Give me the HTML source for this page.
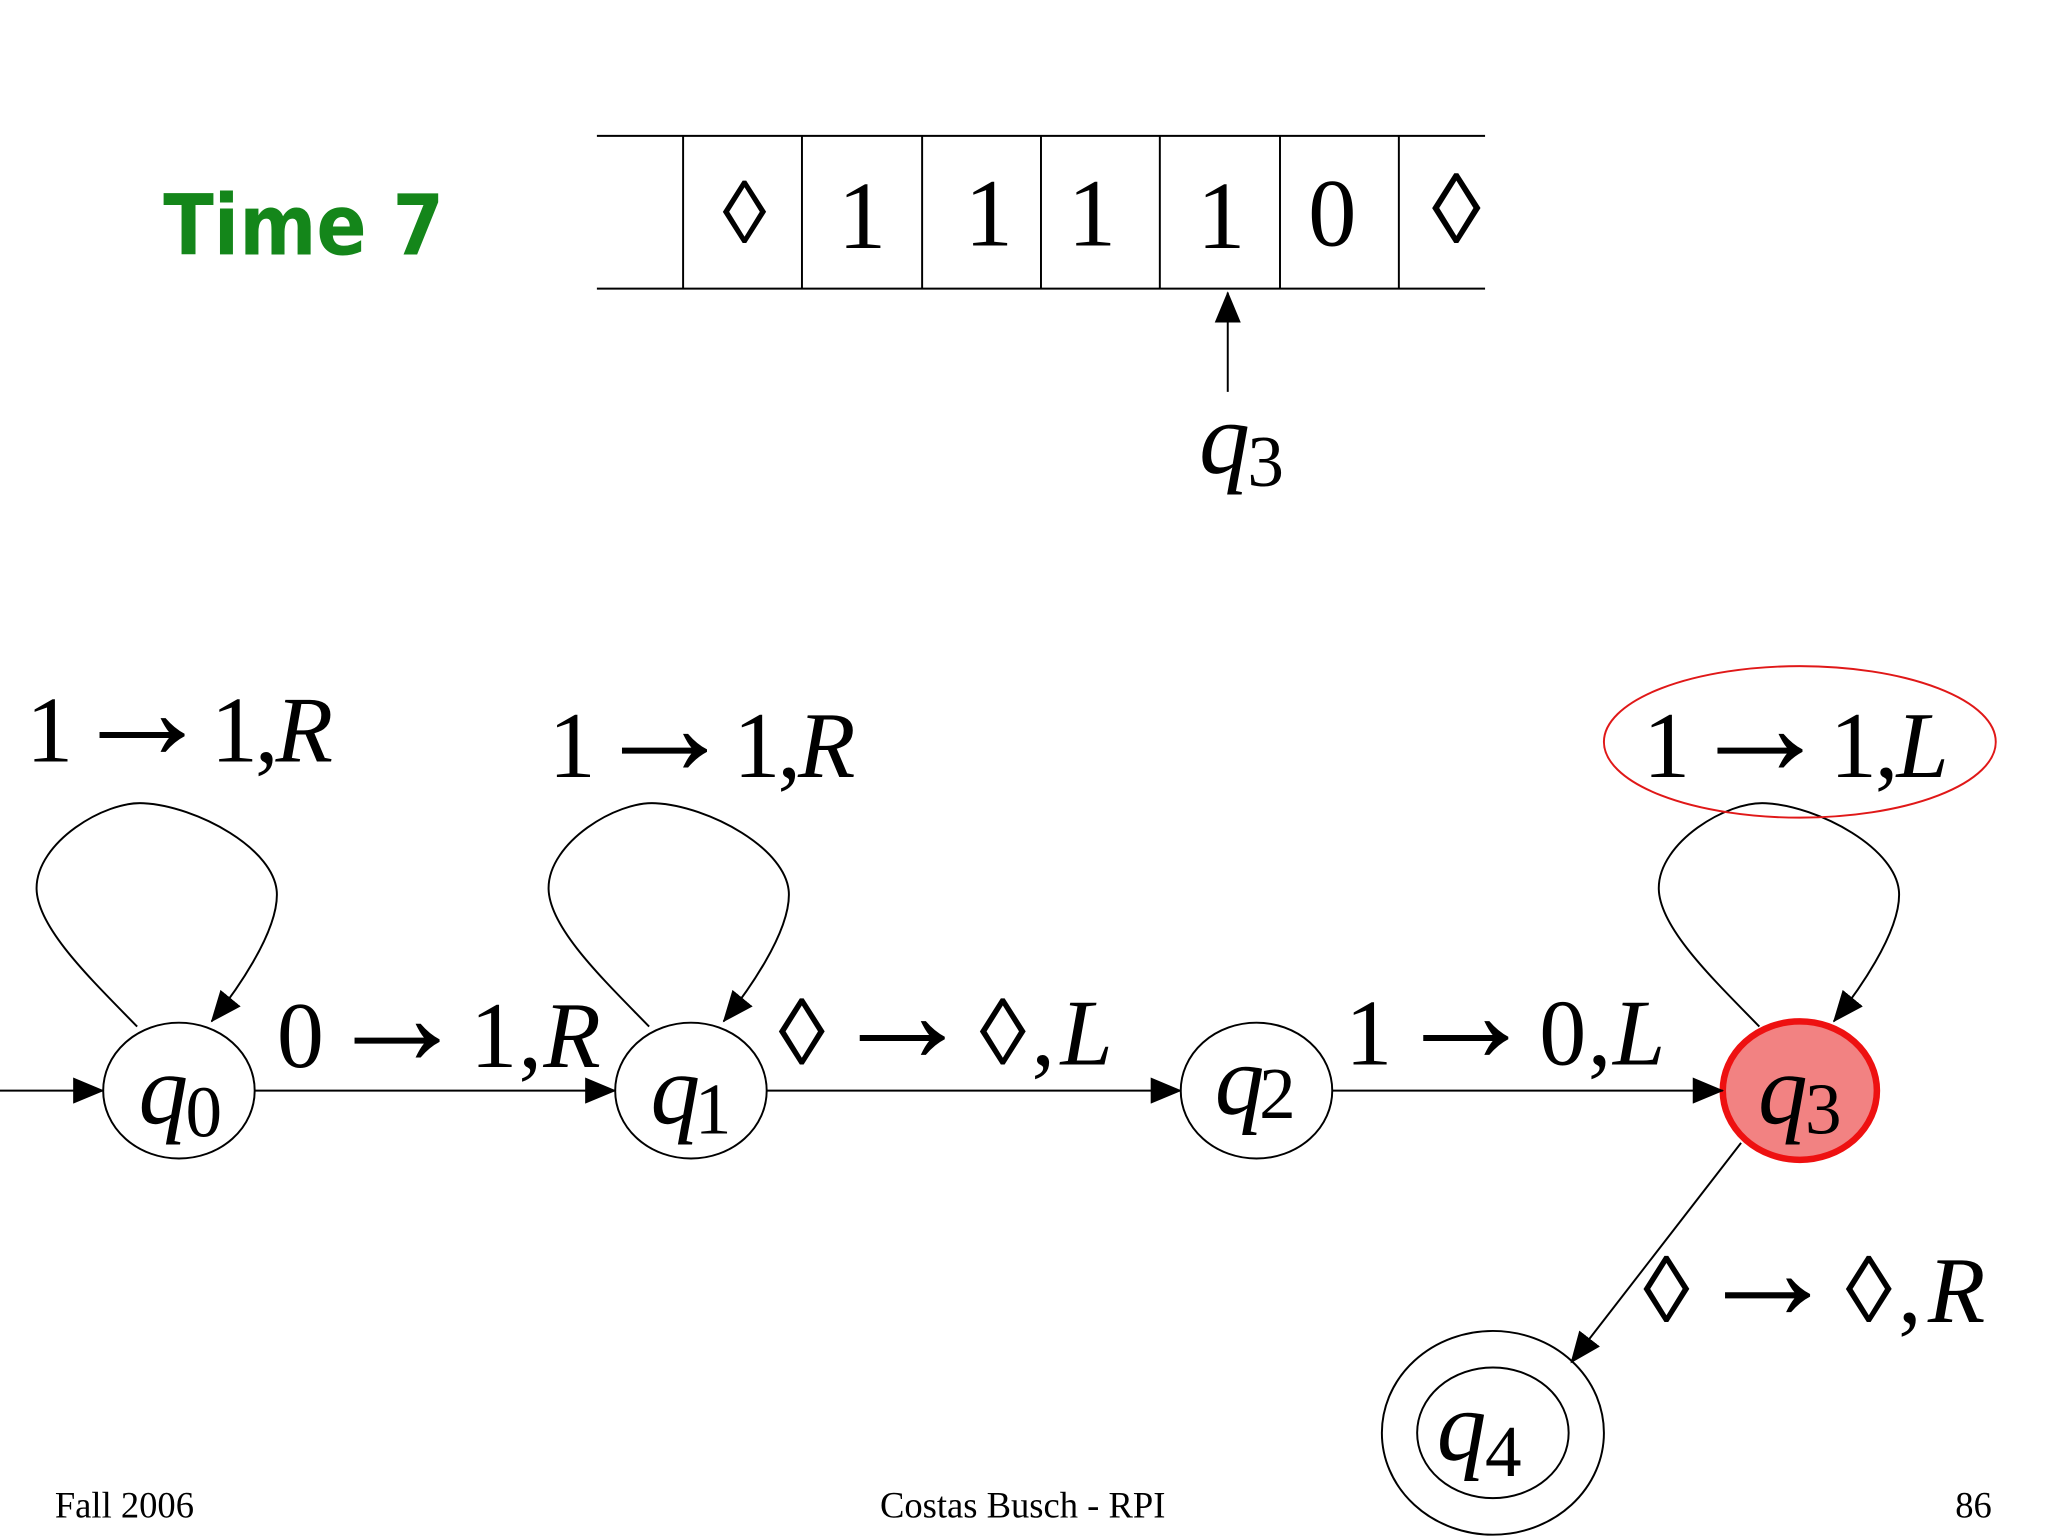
<!DOCTYPE html>
<html><head><meta charset="utf-8"><style>
html,body{margin:0;padding:0;background:#fff;width:2048px;height:1536px;overflow:hidden}
svg text{font-family:"Liberation Serif",serif}
</style></head><body>
<svg width="2048" height="1536" viewBox="0 0 1568 1176" xmlns="http://www.w3.org/2000/svg">
<defs>
<marker id="b" markerWidth="24" markerHeight="20" refX="23" refY="10" orient="auto" markerUnits="userSpaceOnUse" viewBox="0 0 24 20"><path d="M0,0 L24,10 L0,20 Z" fill="#000"/></marker>
</defs>
<rect width="1568" height="1176" fill="#fff"/>
<text x="125" y="195" style="font-family:'DejaVu Sans',sans-serif" font-size="64" font-weight="bold" fill="#14861a" textLength="215" lengthAdjust="spacingAndGlyphs">Time 7</text>
<g stroke="#000" stroke-width="1.5">
<line x1="457" y1="104" x2="1137" y2="104"/><line x1="457" y1="221" x2="1137" y2="221"/>
<line x1="523" y1="104" x2="523" y2="221"/><line x1="614" y1="104" x2="614" y2="221"/>
<line x1="706" y1="104" x2="706" y2="221"/><line x1="797" y1="104" x2="797" y2="221"/>
<line x1="888" y1="104" x2="888" y2="221"/><line x1="980" y1="104" x2="980" y2="221"/>
<line x1="1071" y1="104" x2="1071" y2="221"/>
</g>
<g font-size="74" text-anchor="middle">
<text x="570" y="186" font-size="68">◊</text>
<text x="660" y="190">1</text><text x="757" y="188">1</text><text x="836" y="188">1</text><text x="935" y="190">1</text><text x="1020" y="188">0</text>
<text x="1115" y="186" font-size="76" font-weight="bold">◊</text>
</g>
<line x1="940" y1="300" x2="940" y2="224" stroke="#000" stroke-width="1.5" marker-end="url(#b)"/>
<text x="918" y="362" font-size="78" font-style="italic">q</text><text x="955" y="372" font-size="56">3</text>
<g fill="none" stroke="#000" stroke-width="1.5">
<ellipse cx="137" cy="835" rx="58" ry="52"/>
<ellipse cx="529" cy="835" rx="58" ry="52"/>
<ellipse cx="962" cy="835" rx="58" ry="52"/>
<ellipse cx="1143" cy="1097" rx="85" ry="78"/>
<ellipse cx="1143" cy="1097" rx="58" ry="50"/>
</g>
<ellipse cx="1378" cy="835" rx="59" ry="53" fill="#f28282" stroke="#ee1111" stroke-width="5"/>
<g font-size="76" font-style="italic">
<text x="106" y="860">q</text><text x="498" y="860">q</text><text x="930" y="853">q</text><text x="1346" y="860">q</text><text x="1100" y="1118">q</text>
</g>
<g font-size="56">
<text x="142" y="870">0</text><text x="532" y="868">1</text><text x="964" y="856">2</text><text x="1382" y="868">3</text><text x="1137" y="1130">4</text>
</g>
<g stroke="#000" stroke-width="1.5" fill="none">
<line x1="0" y1="835" x2="79" y2="835" marker-end="url(#b)"/>
<line x1="195" y1="835" x2="471" y2="835" marker-end="url(#b)"/>
<line x1="587" y1="835" x2="904" y2="835" marker-end="url(#b)"/>
<line x1="1020" y1="835" x2="1319" y2="835" marker-end="url(#b)"/>
<line x1="1333" y1="875" x2="1203" y2="1043" marker-end="url(#b)"/>
<path d="M105,786 C70,750 28,710 28,680 C28,645 80,613 110,615 C150,617 212,650 212,685 C212,715 180,760 162,782" marker-end="url(#b)"/>
<path d="M497,786 C462,750 420,710 420,680 C420,645 472,613 502,615 C542,617 604,650 604,685 C604,715 572,760 554,782" marker-end="url(#b)"/>
<path d="M1347,786 C1312,750 1270,710 1270,680 C1270,645 1322,613 1352,615 C1392,617 1454,650 1454,685 C1454,715 1422,760 1404,782" marker-end="url(#b)"/>
</g>
<ellipse cx="1378" cy="568" rx="150" ry="58" fill="none" stroke="#e01818" stroke-width="1.5"/>
<g font-size="72">
<text x="20" y="583" textLength="235" lengthAdjust="spacing">1<tspan font-size="110" dy="-2">→</tspan><tspan dy="2">1,</tspan><tspan font-style="italic">R</tspan></text>
<text x="420" y="595" textLength="235" lengthAdjust="spacing">1<tspan font-size="110" dy="-2">→</tspan><tspan dy="2">1,</tspan><tspan font-style="italic">R</tspan></text>
<text x="1258" y="595" textLength="234" lengthAdjust="spacing">1<tspan font-size="110" dy="-2">→</tspan><tspan dy="2">1,</tspan><tspan font-style="italic">L</tspan></text>
<text x="212" y="817" textLength="248" lengthAdjust="spacing">0<tspan font-size="110" dy="-2">→</tspan><tspan dy="2">1,</tspan><tspan font-style="italic">R</tspan></text>
<text x="596" y="815" textLength="256" lengthAdjust="spacing">◊<tspan font-size="110" dy="-2">→</tspan><tspan dy="2">◊,</tspan><tspan font-style="italic">L</tspan></text>
<text x="1030" y="815" textLength="245" lengthAdjust="spacing">1<tspan font-size="110" dy="-2">→</tspan><tspan dy="2">0,</tspan><tspan font-style="italic">L</tspan></text>
<text x="1258" y="1012" textLength="262" lengthAdjust="spacing">◊<tspan font-size="110" dy="-2">→</tspan><tspan dy="2">◊,</tspan><tspan font-style="italic">R</tspan></text>
</g>
<g font-size="28">
<text x="42" y="1162">Fall 2006</text>
<text x="783" y="1162" text-anchor="middle">Costas Busch - RPI</text>
<text x="1525" y="1162" text-anchor="end">86</text>
</g>
</svg>
</body></html>
